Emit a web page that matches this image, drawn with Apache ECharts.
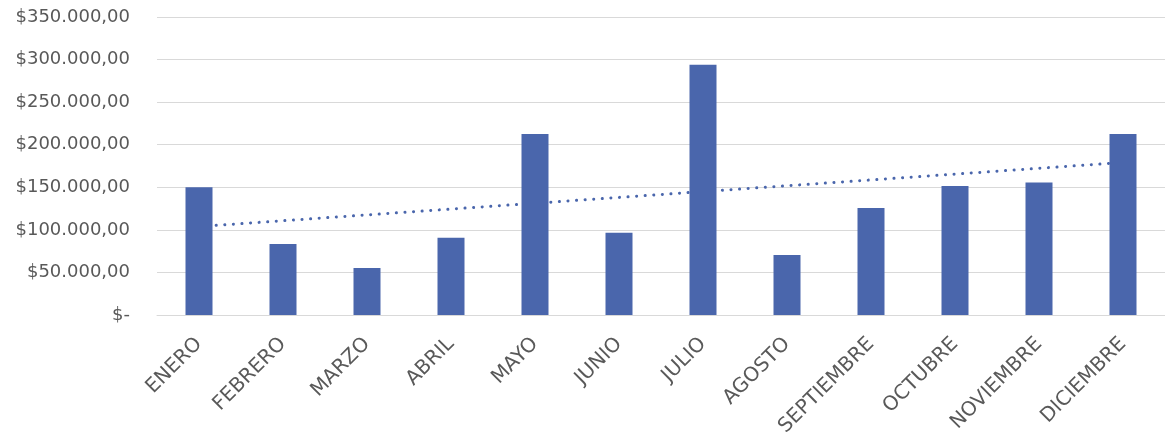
<!DOCTYPE html>
<html>
<head>
<meta charset="utf-8">
<script src="https://cdn.jsdelivr.net/npm/echarts@6/dist/echarts.min.js"></script>
<style>
  html, body { margin: 0; padding: 0; background: #fff; }
  #main { width: 1165px; height: 441px; }
</style>
</head>
<body>
<div id="main"></div>
<script>
// months and monthly amounts
var months = ['ENERO', 'FEBRERO', 'MARZO', 'ABRIL', 'MAYO', 'JUNIO',
              'JULIO', 'AGOSTO', 'SEPTIEMBRE', 'OCTUBRE', 'NOVIEMBRE', 'DICIEMBRE'];
var amounts = [150000, 83500, 55300, 90600, 212600, 96500,
               294000, 70500, 125800, 151500, 155500, 212600];
var yTicks = [0, 50000, 100000, 150000, 200000, 250000, 300000, 350000];

// linear trendline (least squares, like Excel does it)
function linearTrend(values) {
    var n = values.length;
    var sx = 0, sy = 0, sxy = 0, sxx = 0;
    values.forEach(function (v, i) {
        var x = i + 1;
        sx += x; sy += v; sxy += x * v; sxx += x * x;
    });
    var slope = (n * sxy - sx * sy) / (n * sxx - sx * sx);
    var icept = (sy - slope * sx) / n;
    return values.map(function (v, i) { return icept + slope * (i + 1); });
}

// $350.000,00 style, zero shows as $-
function money(v) {
    if (v === 0) return '$-';
    var s = Math.round(v).toString().replace(/\B(?=(\d{3})+(?!\d))/g, '.');
    return '$' + s + ',00';
}

var chartDom = document.getElementById('main');
var myChart = echarts.init(chartDom);
var blue = '#4A66AC';

var option = {
    animation: false,
    textStyle: { fontFamily: 'DejaVu Sans' },
    grid: { left: 157, right: 0, top: 17, bottom: 126 },
    xAxis: {
        type: 'category',
        data: months,
        axisLine: { lineStyle: { color: '#d9d9d9', width: 1 } },
        axisTick: { show: false },
        axisLabel: {
            rotate: 45,
            interval: 0,
            margin: 26,
            color: '#595959',
            fontSize: 20
        }
    },
    yAxis: {
        type: 'value',
        min: yTicks[0],
        max: yTicks[yTicks.length - 1],
        interval: 50000,
        axisLine: { show: false },
        axisTick: { show: false },
        splitLine: { lineStyle: { color: '#d9d9d9', width: 1 } },
        axisLabel: {
            margin: 27,
            color: '#595959',
            fontSize: 18,
            formatter: money
        }
    },
    series: [
        {
            name: 'Tendencia',
            type: 'line',
            data: linearTrend(amounts),
            symbol: 'none',
            z: 1,
            lineStyle: { color: blue, width: 3, type: [0.1, 8.5], cap: 'round' }
        },
        {
            name: 'Total',
            type: 'bar',
            data: amounts,
            barWidth: 27,
            z: 2,
            itemStyle: { color: blue }
        }
    ]
};

myChart.setOption(option);
</script>
</body>
</html>
